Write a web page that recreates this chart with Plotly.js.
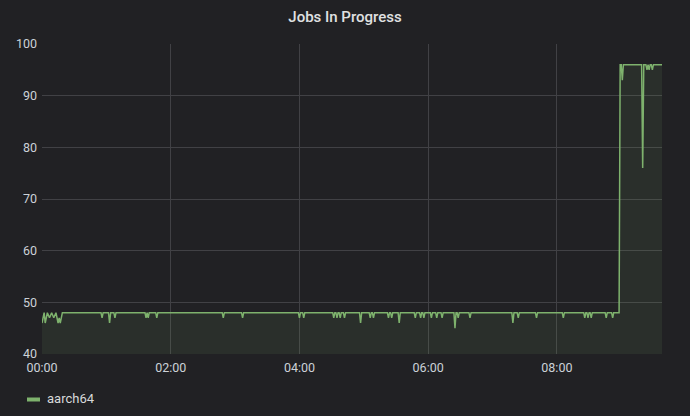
<!DOCTYPE html>
<html><head><meta charset="utf-8">
<script src="https://cdn.plot.ly/plotly-3.0.1.min.js"></script>
<style>html,body{margin:0;padding:0;background:#212124;} #chart{width:690px;height:416px;}</style>
</head><body><div id="chart"></div>
<script>
const chartTitle = "Jobs In Progress";
const seriesName = "aarch64";
const baseDate = "2024-01-01";
// minutes after 00:00 (vertices of the series)
const minutes = [
  0, 2, 3, 5, 7, 9, 11, 13, 15, 16, 17, 19,
  55, 56, 57, 62, 63, 64, 67, 68, 69,
  96, 97, 98, 99, 100, 106, 107, 108, 168, 169, 170, 186, 187, 188,
  239, 240, 241, 243, 244, 245,
  271, 272, 273, 274, 275, 276, 277, 278, 279, 281, 282, 283,
  296, 297, 298, 305, 306, 307, 308, 309, 310, 322, 323, 324, 325, 326, 327, 332, 333, 334,
  347, 348, 349, 352, 353, 354, 355, 356, 357, 362, 363, 364, 367, 368, 369, 372, 373, 374,
  384, 385, 386, 387, 388, 389, 398, 399, 400, 438, 439, 440, 443, 444, 445,
  460, 461, 462, 485, 486, 487, 505, 506, 507, 508, 509, 510, 511, 512, 513,
  525, 526, 527, 531, 532, 533,
  538, 539, 540, 541, 542, 559, 560, 561, 563, 564, 565, 566, 567, 568, 569, 570, 578
];
const jobs = [
  46, 48, 46, 48, 47, 48, 47, 48, 46, 47, 46, 48,
  48, 47, 48, 48, 46, 48, 48, 47, 48,
  48, 47, 48, 47, 48, 48, 47, 48, 48, 47, 48, 48, 47, 48,
  48, 47, 48, 48, 47, 48,
  48, 47, 48, 48, 47, 48, 48, 47, 48, 48, 47, 48,
  48, 46, 48, 48, 47, 48, 48, 47, 48, 48, 47, 48, 48, 47, 48, 48, 46, 48,
  48, 47, 48, 48, 47, 48, 48, 47, 48, 48, 47, 48, 48, 47, 48, 48, 47, 48,
  48, 45, 48, 48, 47, 48, 48, 47, 48, 48, 46, 48, 48, 47, 48,
  48, 47, 48, 48, 47, 48, 48, 47, 48, 48, 47, 48, 48, 47, 48,
  48, 47, 48, 48, 47, 48,
  48, 96, 96, 93, 96, 96, 76, 96, 96, 95, 96, 95, 96, 96, 95, 96, 96
];
const xTickLabels = ["00:00", "02:00", "04:00", "06:00", "08:00"];
const yTickValues = [40, 50, 60, 70, 80, 90, 100];
const rangeEndMinute = 578;

function toTime(m) {
  const h = Math.floor(m / 60), mm = m % 60;
  return baseDate + " " + String(h).padStart(2, "0") + ":" + String(mm).padStart(2, "0") + ":00";
}
const xs = minutes.map(toTime);
const xTickVals = xTickLabels.map(t => baseDate + " " + t + ":00");

const green = "#7EB26D";
const textColor = "#ccd2d8";
const gridColor = "#414145";

const trace = {
  type: "scatter", mode: "lines", x: xs, y: jobs, name: seriesName,
  line: {color: green, width: 1.5},
  fill: "tozeroy", fillcolor: "rgba(126,178,109,0.10)",
  showlegend: false, hoverinfo: "x+y"
};

const layout = {
  width: 690, height: 416,
  paper_bgcolor: "#212124", plot_bgcolor: "#212124",
  margin: {l: 42, r: 28, t: 44, b: 62},
  font: {family: "Roboto, sans-serif", color: textColor, size: 12.5},
  title: {text: chartTitle, x: 0.5, xanchor: "center", xref: "container",
          y: 1 - 17 / 416, yref: "container", yanchor: "middle",
          font: {family: "Roboto, sans-serif", size: 15, weight: 500, color: "#e0e1e2"}},
  xaxis: {type: "date", range: [toTime(0), toTime(rangeEndMinute)],
          tickvals: xTickVals, ticktext: xTickLabels,
          showgrid: true, gridcolor: gridColor, gridwidth: 1,
          zeroline: false, showline: false, ticks: "", ticklabelstandoff: 4,
          tickfont: {size: 12.5, color: textColor}, fixedrange: true},
  yaxis: {range: [40, 100], tickvals: yTickValues,
          showgrid: true, gridcolor: gridColor, gridwidth: 1,
          zeroline: false, showline: false, ticks: "", ticklabelstandoff: 4,
          tickfont: {size: 12.5, color: textColor}, fixedrange: true},
  shapes: [
    {type: "line", xref: "paper", yref: "paper",
     x0: (27 - 42) / 620, x1: (40 - 42) / 620,
     y0: (354 - 399.5) / 310, y1: (354 - 399.5) / 310,
     line: {color: green, width: 4}}
  ],
  annotations: [
    {text: seriesName, xref: "paper", yref: "paper",
     x: (45 - 42) / 620, y: (354 - 398) / 310, xanchor: "left", yanchor: "middle",
     showarrow: false, font: {size: 13, color: "#d8d9da"}}
  ],
  showlegend: false
};

Plotly.newPlot("chart", [trace], layout, {displayModeBar: false, staticPlot: true});
</script>
</body></html>
